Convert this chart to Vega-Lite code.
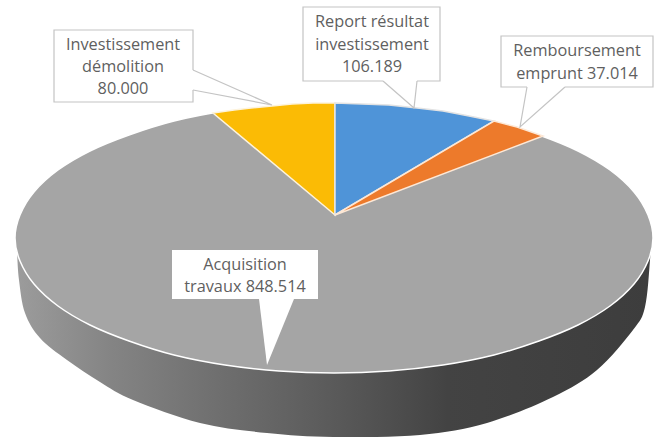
{"$schema":"https://vega.github.io/schema/vega-lite/v6.json","width":663,"height":437,"padding":0,"autosize":"none","background":"white","view":{"stroke":null},
"datasets":{
"side":[{"i":1,"u":-318,"v":0},{"i":2,"u":-317,"v":-14},{"i":3,"u":-315,"v":-42},{"i":4,"u":-309,"v":-75},{"i":5,"u":-294,"v":-100},{"i":6,"u":-267,"v":-122},{"i":7,"u":-234,"v":-144},{"i":8,"u":-201,"v":-162},{"i":9,"u":-134,"v":-185},{"i":10,"u":-67,"v":-195},{"i":11,"u":-1,"v":-199},{"i":12,"u":86,"v":-197},{"i":13,"u":153,"v":-185},{"i":14,"u":219,"v":-159},{"i":15,"u":263,"v":-132},{"i":16,"u":299,"v":-92},{"i":17,"u":311,"v":-69},{"i":18,"u":316,"v":-22},{"i":19,"u":317,"v":0}],
"top":[{"i":1,"u":319,"v":0},{"i":2,"u":314,"v":23},{"i":3,"u":300,"v":46},{"i":4,"u":276,"v":68},{"i":5,"u":244,"v":87},{"i":6,"u":205,"v":103},{"i":7,"u":160,"v":117},{"i":8,"u":109,"v":127},{"i":9,"u":55,"v":133},{"i":10,"u":0,"v":135},{"i":11,"u":-55,"v":133},{"i":12,"u":-109,"v":127},{"i":13,"u":-160,"v":117},{"i":14,"u":-205,"v":103},{"i":15,"u":-244,"v":87},{"i":16,"u":-276,"v":68},{"i":17,"u":-300,"v":46},{"i":18,"u":-314,"v":23},{"i":19,"u":-319,"v":0},{"i":20,"u":-314,"v":-23},{"i":21,"u":-300,"v":-46},{"i":22,"u":-276,"v":-68},{"i":23,"u":-244,"v":-87},{"i":24,"u":-205,"v":-103},{"i":25,"u":-160,"v":-117},{"i":26,"u":-109,"v":-127},{"i":27,"u":-55,"v":-133},{"i":28,"u":0,"v":-135},{"i":29,"u":55,"v":-133},{"i":30,"u":109,"v":-127},{"i":31,"u":160,"v":-117},{"i":32,"u":205,"v":-103},{"i":33,"u":244,"v":-87},{"i":34,"u":276,"v":-68},{"i":35,"u":300,"v":-46},{"i":36,"u":314,"v":-23}],
"wedges":[
{"s":"Investissement démolition","i":1,"u":1,"v":23},{"s":"Investissement démolition","i":2,"u":-121,"v":125},{"s":"Investissement démolition","i":3,"u":-100,"v":128},{"s":"Investissement démolition","i":4,"u":-83,"v":130},{"s":"Investissement démolition","i":5,"u":-62,"v":132},{"s":"Investissement démolition","i":6,"u":-42,"v":134},{"s":"Investissement démolition","i":7,"u":-21,"v":135},{"s":"Investissement démolition","i":8,"u":1,"v":135},
{"s":"Report résultat investissement","i":1,"u":1,"v":23},{"s":"Report résultat investissement","i":2,"u":1,"v":135},{"s":"Report résultat investissement","i":3,"u":28,"v":134},{"s":"Report résultat investissement","i":4,"u":55,"v":133},{"s":"Report résultat investissement","i":5,"u":83,"v":130},{"s":"Report résultat investissement","i":6,"u":109,"v":127},{"s":"Report résultat investissement","i":7,"u":135,"v":122},{"s":"Report résultat investissement","i":8,"u":160,"v":117},
{"s":"Remboursement emprunt","i":1,"u":1,"v":23},{"s":"Remboursement emprunt","i":2,"u":160,"v":117},{"s":"Remboursement emprunt","i":3,"u":183,"v":111},{"s":"Remboursement emprunt","i":4,"u":209,"v":102}],
"boxes":[{"n":"a","u":-280,"u2":-141,"v":208,"v2":136,"b":"y"},{"n":"b","u":-31,"u2":106,"v":231,"v2":157,"b":"y"},{"n":"c","u":167,"u2":319,"v":202,"v2":151,"b":"y"},{"n":"d","u":-162,"u2":-16,"v":-12,"v2":-61,"b":"n"}],
"pointers":[
{"n":"a","i":1,"u":-144,"v":168,"e":"n"},{"n":"a","i":2,"u":-141,"v":168,"e":"y"},{"n":"a","i":3,"u":-62,"v":133,"e":"y"},{"n":"a","i":4,"u":-141,"v":148,"e":"y"},{"n":"a","i":5,"u":-144,"v":148,"e":"n"},
{"n":"b","i":1,"u":49,"v":160,"e":"n"},{"n":"b","i":2,"u":49,"v":157,"e":"y"},{"n":"b","i":3,"u":80,"v":130,"e":"y"},{"n":"b","i":4,"u":83,"v":157,"e":"y"},{"n":"b","i":5,"u":83,"v":160,"e":"n"},
{"n":"c","i":1,"u":193,"v":154,"e":"n"},{"n":"c","i":2,"u":193,"v":151,"e":"y"},{"n":"c","i":3,"u":186,"v":111,"e":"y"},{"n":"c","i":4,"u":231,"v":151,"e":"y"},{"n":"c","i":5,"u":231,"v":154,"e":"n"},
{"n":"d","i":1,"u":-75,"v":-58,"e":"n"},{"n":"d","i":2,"u":-75,"v":-61,"e":"n"},{"n":"d","i":3,"u":-67,"v":-127,"e":"n"},{"n":"d","i":4,"u":-40,"v":-61,"e":"n"},{"n":"d","i":5,"u":-40,"v":-58,"e":"n"}],
"labels":[{"u":-211,"v":193,"t":"Investissement"},{"u":-211,"v":171,"t":"démolition"},{"u":-211,"v":149,"t":"80.000"},{"u":38,"v":216,"t":"Report résultat"},{"u":38,"v":193,"t":"investissement"},{"u":38,"v":171,"t":"106.189"},{"u":243,"v":187,"t":"Remboursement"},{"u":243,"v":164,"t":"emprunt 37.014"},{"u":-89,"v":-27,"t":"Acquisition"},{"u":-89,"v":-49,"t":"travaux 848.514"}]
},
"encoding":{
"x":{"field":"u","type":"quantitative","axis":null,"scale":{"domain":[-334,329],"nice":false,"zero":false}},
"y":{"field":"v","type":"quantitative","axis":null,"scale":{"domain":[-199,238],"nice":false,"zero":false}}},
"layer":[
{"data":{"name":"side"},"mark":{"type":"line","interpolate":"cardinal","strokeWidth":0,"clip":false,"fill":{"gradient":"linear","x1":0,"x2":1,"y1":0,"y2":0,"stops":[{"offset":0,"color":"#9c9c9c"},{"offset":0.15,"color":"#848484"},{"offset":0.3,"color":"#717171"},{"offset":0.5,"color":"#5a5a5a"},{"offset":0.68,"color":"#434343"},{"offset":1,"color":"#3d3d3d"}]}},"encoding":{"order":{"field":"i"}}},
{"data":{"name":"top"},"mark":{"type":"line","interpolate":"cardinal-closed","fill":"#a5a5a5","stroke":"#ffffff","strokeWidth":1.5},"encoding":{"order":{"field":"i"}}},
{"data":{"name":"wedges"},"transform":[{"filter":"datum.s==='Investissement démolition'"}],"mark":{"type":"line","interpolate":"linear-closed","fill":"#fbbb05","stroke":"#fdf3dc","strokeWidth":1.5},"encoding":{"order":{"field":"i"}}},
{"data":{"name":"wedges"},"transform":[{"filter":"datum.s==='Report résultat investissement'"}],"mark":{"type":"line","interpolate":"linear-closed","fill":"#4f94d8","stroke":"#e3e3e3","strokeWidth":1.5},"encoding":{"order":{"field":"i"}}},
{"data":{"name":"wedges"},"transform":[{"filter":"datum.s==='Remboursement emprunt'"}],"mark":{"type":"line","interpolate":"linear-closed","fill":"#ed7a2b","stroke":"#fde8d6","strokeWidth":1.5},"encoding":{"order":{"field":"i"}}},
{"data":{"name":"boxes"},"transform":[{"filter":"datum.b==='y'"}],"mark":{"type":"rect","fill":"#ffffff","stroke":"#c4c4c4","strokeWidth":1.2},"encoding":{"x2":{"field":"u2"},"y2":{"field":"v2"}}},
{"data":{"name":"boxes"},"transform":[{"filter":"datum.b==='n'"}],"mark":{"type":"rect","fill":"#ffffff","strokeWidth":0},"encoding":{"x2":{"field":"u2"},"y2":{"field":"v2"}}},
{"data":{"name":"pointers"},"mark":{"type":"line","interpolate":"linear-closed","fill":"#ffffff","strokeWidth":0},"encoding":{"detail":{"field":"n"},"order":{"field":"i"}}},
{"data":{"name":"pointers"},"transform":[{"filter":"datum.e==='y'"}],"mark":{"type":"line","stroke":"#c4c4c4","strokeWidth":1.2},"encoding":{"detail":{"field":"n"},"order":{"field":"i"}}},
{"data":{"name":"labels"},"mark":{"type":"text","font":"Open Sans","fontSize":16.3,"color":"#5f5f5f","align":"center","baseline":"middle"},"encoding":{"text":{"field":"t"}}}
]}
